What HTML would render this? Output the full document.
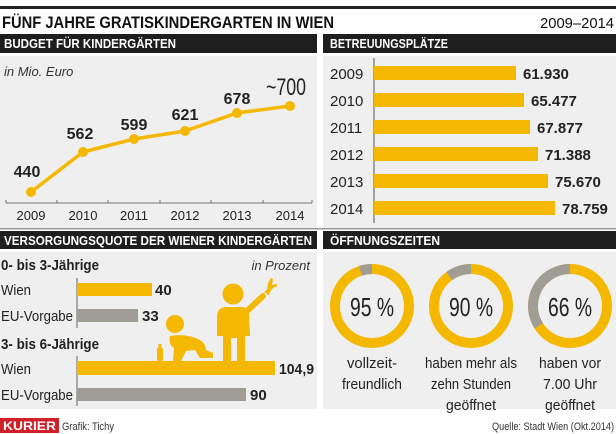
<!DOCTYPE html>
<html><head><meta charset="utf-8"><style>
body{margin:0;background:#fff}
svg{display:block}
text{font-family:"Liberation Sans",sans-serif}
</style></head><body>
<svg width="616" height="434" viewBox="0 0 616 434" xmlns="http://www.w3.org/2000/svg">
<rect width="616" height="434" fill="#fff"/>
<rect x="0" y="6" width="616" height="3" fill="#222"/>
<text x="2" y="28" font-size="17" font-weight="bold" fill="#111" textLength="332" lengthAdjust="spacingAndGlyphs">FÜNF JAHRE GRATISKINDERGARTEN IN WIEN</text>
<text x="614" y="28" font-size="15" fill="#111" text-anchor="end" textLength="74" lengthAdjust="spacingAndGlyphs">2009–2014</text>
<rect x="0" y="34" width="317" height="19" fill="#1e1e1e"/>
<rect x="323" y="34" width="293" height="19" fill="#1e1e1e"/>
<text x="4" y="48" font-size="12.5" font-weight="bold" fill="#fff" textLength="172" lengthAdjust="spacingAndGlyphs">BUDGET FÜR KINDERGÄRTEN</text>
<text x="330" y="48" font-size="12.5" font-weight="bold" fill="#fff" textLength="118" lengthAdjust="spacingAndGlyphs">BETREUUNGSPLÄTZE</text>
<rect x="0" y="56" width="317" height="172" fill="#efefef"/>
<rect x="323" y="56" width="293" height="172" fill="#efefef"/>
<rect x="0" y="228" width="616" height="1.5" fill="#999"/>
<text x="4" y="76" font-size="13" font-style="italic" fill="#333" font-family="Liberation Serif">in Mio. Euro</text>
<line x1="6" y1="203" x2="312" y2="203" stroke="#777" stroke-width="1"/>
<g stroke="#777"><line x1="6" y1="200" x2="6" y2="203"/><line x1="57" y1="200" x2="57" y2="203"/><line x1="108" y1="200" x2="108" y2="203"/><line x1="160" y1="200" x2="160" y2="203"/><line x1="211" y1="200" x2="211" y2="203"/><line x1="263" y1="200" x2="263" y2="203"/><line x1="312" y1="200" x2="312" y2="203"/></g>
<g font-size="13" fill="#222" text-anchor="middle"><text x="31" y="220">2009</text><text x="83" y="220">2010</text><text x="134" y="220">2011</text><text x="185" y="220">2012</text><text x="237" y="220">2013</text><text x="290" y="220">2014</text></g>
<polyline points="31,192 83,152 134,139 185,131 237,113 290,106" fill="none" stroke="#f5b800" stroke-width="3.5" stroke-linejoin="round"/>
<g fill="#f5b800"><circle cx="31" cy="192" r="5"/><circle cx="83" cy="152" r="5"/><circle cx="134" cy="139" r="5"/><circle cx="185" cy="131" r="5"/><circle cx="237" cy="113" r="5"/><circle cx="290" cy="106" r="5"/></g>
<g font-size="16" font-weight="bold" fill="#222" text-anchor="middle"><text x="27" y="177">440</text><text x="80" y="139">562</text><text x="134" y="130">599</text><text x="185" y="120">621</text><text x="237" y="104">678</text></g>
<text x="286" y="95" font-size="24" fill="#222" text-anchor="middle" textLength="40" lengthAdjust="spacingAndGlyphs">~700</text>
<line x1="374" y1="58" x2="374" y2="223" stroke="#555"/>
<g fill="#f5b800">
<rect x="374" y="66" width="142" height="14"/><rect x="374" y="93" width="150" height="14"/><rect x="374" y="120" width="156" height="14"/><rect x="374" y="147" width="164" height="14"/><rect x="374" y="174" width="174" height="14"/><rect x="374" y="201" width="181" height="14"/></g>
<g font-size="15" fill="#222"><text x="330" y="79">2009</text><text x="330" y="106">2010</text><text x="330" y="133">2011</text><text x="330" y="160">2012</text><text x="330" y="187">2013</text><text x="330" y="214">2014</text></g>
<g font-size="15" font-weight="bold" fill="#222"><text x="523" y="79">61.930</text><text x="531" y="106">65.477</text><text x="537" y="133">67.877</text><text x="545" y="160">71.388</text><text x="555" y="187">75.670</text><text x="562" y="214">78.759</text></g>
<rect x="0" y="231" width="317" height="18" fill="#1e1e1e"/>
<rect x="323" y="231" width="293" height="18" fill="#1e1e1e"/>
<text x="4" y="245" font-size="12.5" font-weight="bold" fill="#fff" textLength="308" lengthAdjust="spacingAndGlyphs">VERSORGUNGSQUOTE DER WIENER KINDERGÄRTEN</text>
<text x="330" y="245" font-size="12.5" font-weight="bold" fill="#fff" textLength="110" lengthAdjust="spacingAndGlyphs">ÖFFNUNGSZEITEN</text>
<rect x="0" y="252" width="317" height="157" fill="#efefef"/>
<rect x="323" y="252" width="293" height="157" fill="#efefef"/>
<text x="1" y="270" font-size="15" font-weight="bold" fill="#222" textLength="98" lengthAdjust="spacingAndGlyphs">0- bis 3-Jährige</text>
<text x="310" y="270" font-size="13" font-style="italic" fill="#333" text-anchor="end" font-family="Liberation Serif">in Prozent</text>
<text x="1" y="349" font-size="15" font-weight="bold" fill="#222" textLength="98" lengthAdjust="spacingAndGlyphs">3- bis 6-Jährige</text>
<line x1="77" y1="278" x2="77" y2="328" stroke="#666"/>
<line x1="77" y1="356" x2="77" y2="406" stroke="#666"/>
<g font-size="15" fill="#222"><text x="1" y="295" textLength="30" lengthAdjust="spacingAndGlyphs">Wien</text><text x="1" y="321" textLength="72" lengthAdjust="spacingAndGlyphs">EU-Vorgabe</text><text x="1" y="374" textLength="30" lengthAdjust="spacingAndGlyphs">Wien</text><text x="1" y="400" textLength="72" lengthAdjust="spacingAndGlyphs">EU-Vorgabe</text></g>
<rect x="77" y="283" width="75" height="13" fill="#f5b800"/>
<rect x="77" y="309" width="61" height="13" fill="#a09d95"/>
<rect x="77" y="361" width="198" height="14" fill="#f5b800"/>
<rect x="77" y="388" width="169" height="13" fill="#a09d95"/>
<g font-size="15" font-weight="bold" fill="#222"><text x="155" y="295">40</text><text x="142" y="321">33</text><text x="279" y="374" textLength="35" lengthAdjust="spacingAndGlyphs">104,9</text><text x="250" y="400">90</text></g>
<g fill="#f5b800">
<circle cx="233" cy="294" r="10.5"/>
<path d="M226,307 L242,307 Q247,307 249,311 L250,336 L245,336 L245,361 L237,361 L237,338 L231,338 L231,361 L223,361 L223,336 L217,336 L217,316 Q218,307 226,307 Z"/>
<line x1="246" y1="312" x2="263" y2="296" stroke="#f5b800" stroke-width="6" stroke-linecap="round"/>
<path d="M264,292 L272,285 L274,287 L268,294 Z"/>
<path d="M268,283 L271,278 L273,279 L272,285 L277,284 L277,286 L271,289 L269,295 L267,295 L267,290 Z"/>
<circle cx="175" cy="324" r="9"/>
<path d="M170,336 Q186,333 200,340 Q206,344 206,350 L213,353 L213,358 L200,358 L195,350 L186,351 L181,361 L173,361 L174,348 Q168,344 170,336 Z"/>
<rect x="157" y="348" width="6" height="13" rx="1.5"/><rect x="158.5" y="344" width="3" height="5"/>
</g>
<g fill="none" stroke-width="10">
<circle cx="372" cy="306" r="37" stroke="#f5b800"/>
<circle cx="372" cy="306" r="37" stroke="#a09d95" stroke-dasharray="11.6 300" transform="rotate(-108 372 306)"/>
<circle cx="471" cy="306" r="37" stroke="#f5b800"/>
<circle cx="471" cy="306" r="37" stroke="#a09d95" stroke-dasharray="23.2 300" transform="rotate(-126 471 306)"/>
<circle cx="570" cy="306" r="37" stroke="#f5b800"/>
<circle cx="570" cy="306" r="37" stroke="#a09d95" stroke-dasharray="79 300" transform="rotate(-212.4 570 306)"/>
</g>
<g font-size="26" fill="#222" text-anchor="middle"><text x="372" y="316" textLength="44" lengthAdjust="spacingAndGlyphs">95 %</text><text x="471" y="316" textLength="44" lengthAdjust="spacingAndGlyphs">90 %</text><text x="570" y="316" textLength="44" lengthAdjust="spacingAndGlyphs">66 %</text></g>
<g font-size="15" fill="#222" text-anchor="middle">
<text x="372" y="368" textLength="50" lengthAdjust="spacingAndGlyphs">vollzeit-</text><text x="372" y="389" textLength="60" lengthAdjust="spacingAndGlyphs">freundlich</text>
<text x="471" y="368" textLength="92" lengthAdjust="spacingAndGlyphs">haben mehr als</text><text x="471" y="389" textLength="80" lengthAdjust="spacingAndGlyphs">zehn Stunden</text><text x="471" y="410" textLength="50" lengthAdjust="spacingAndGlyphs">geöffnet</text>
<text x="570" y="368" textLength="62" lengthAdjust="spacingAndGlyphs">haben vor</text><text x="570" y="389" textLength="54" lengthAdjust="spacingAndGlyphs">7.00 Uhr</text><text x="570" y="410" textLength="50" lengthAdjust="spacingAndGlyphs">geöffnet</text>
</g>
<rect x="0" y="418" width="59" height="15" fill="#d0202a"/>
<text x="3" y="430" font-size="12" font-weight="bold" fill="#fff" font-family="Liberation Serif" textLength="53" lengthAdjust="spacingAndGlyphs">KURIER</text>
<text x="62" y="430" font-size="11" fill="#333" textLength="52" lengthAdjust="spacingAndGlyphs">Grafik: Tichy</text>
<text x="614" y="430" font-size="11" fill="#333" text-anchor="end" textLength="122" lengthAdjust="spacingAndGlyphs">Quelle: Stadt Wien (Okt.2014)</text>
</svg>
</body></html>
